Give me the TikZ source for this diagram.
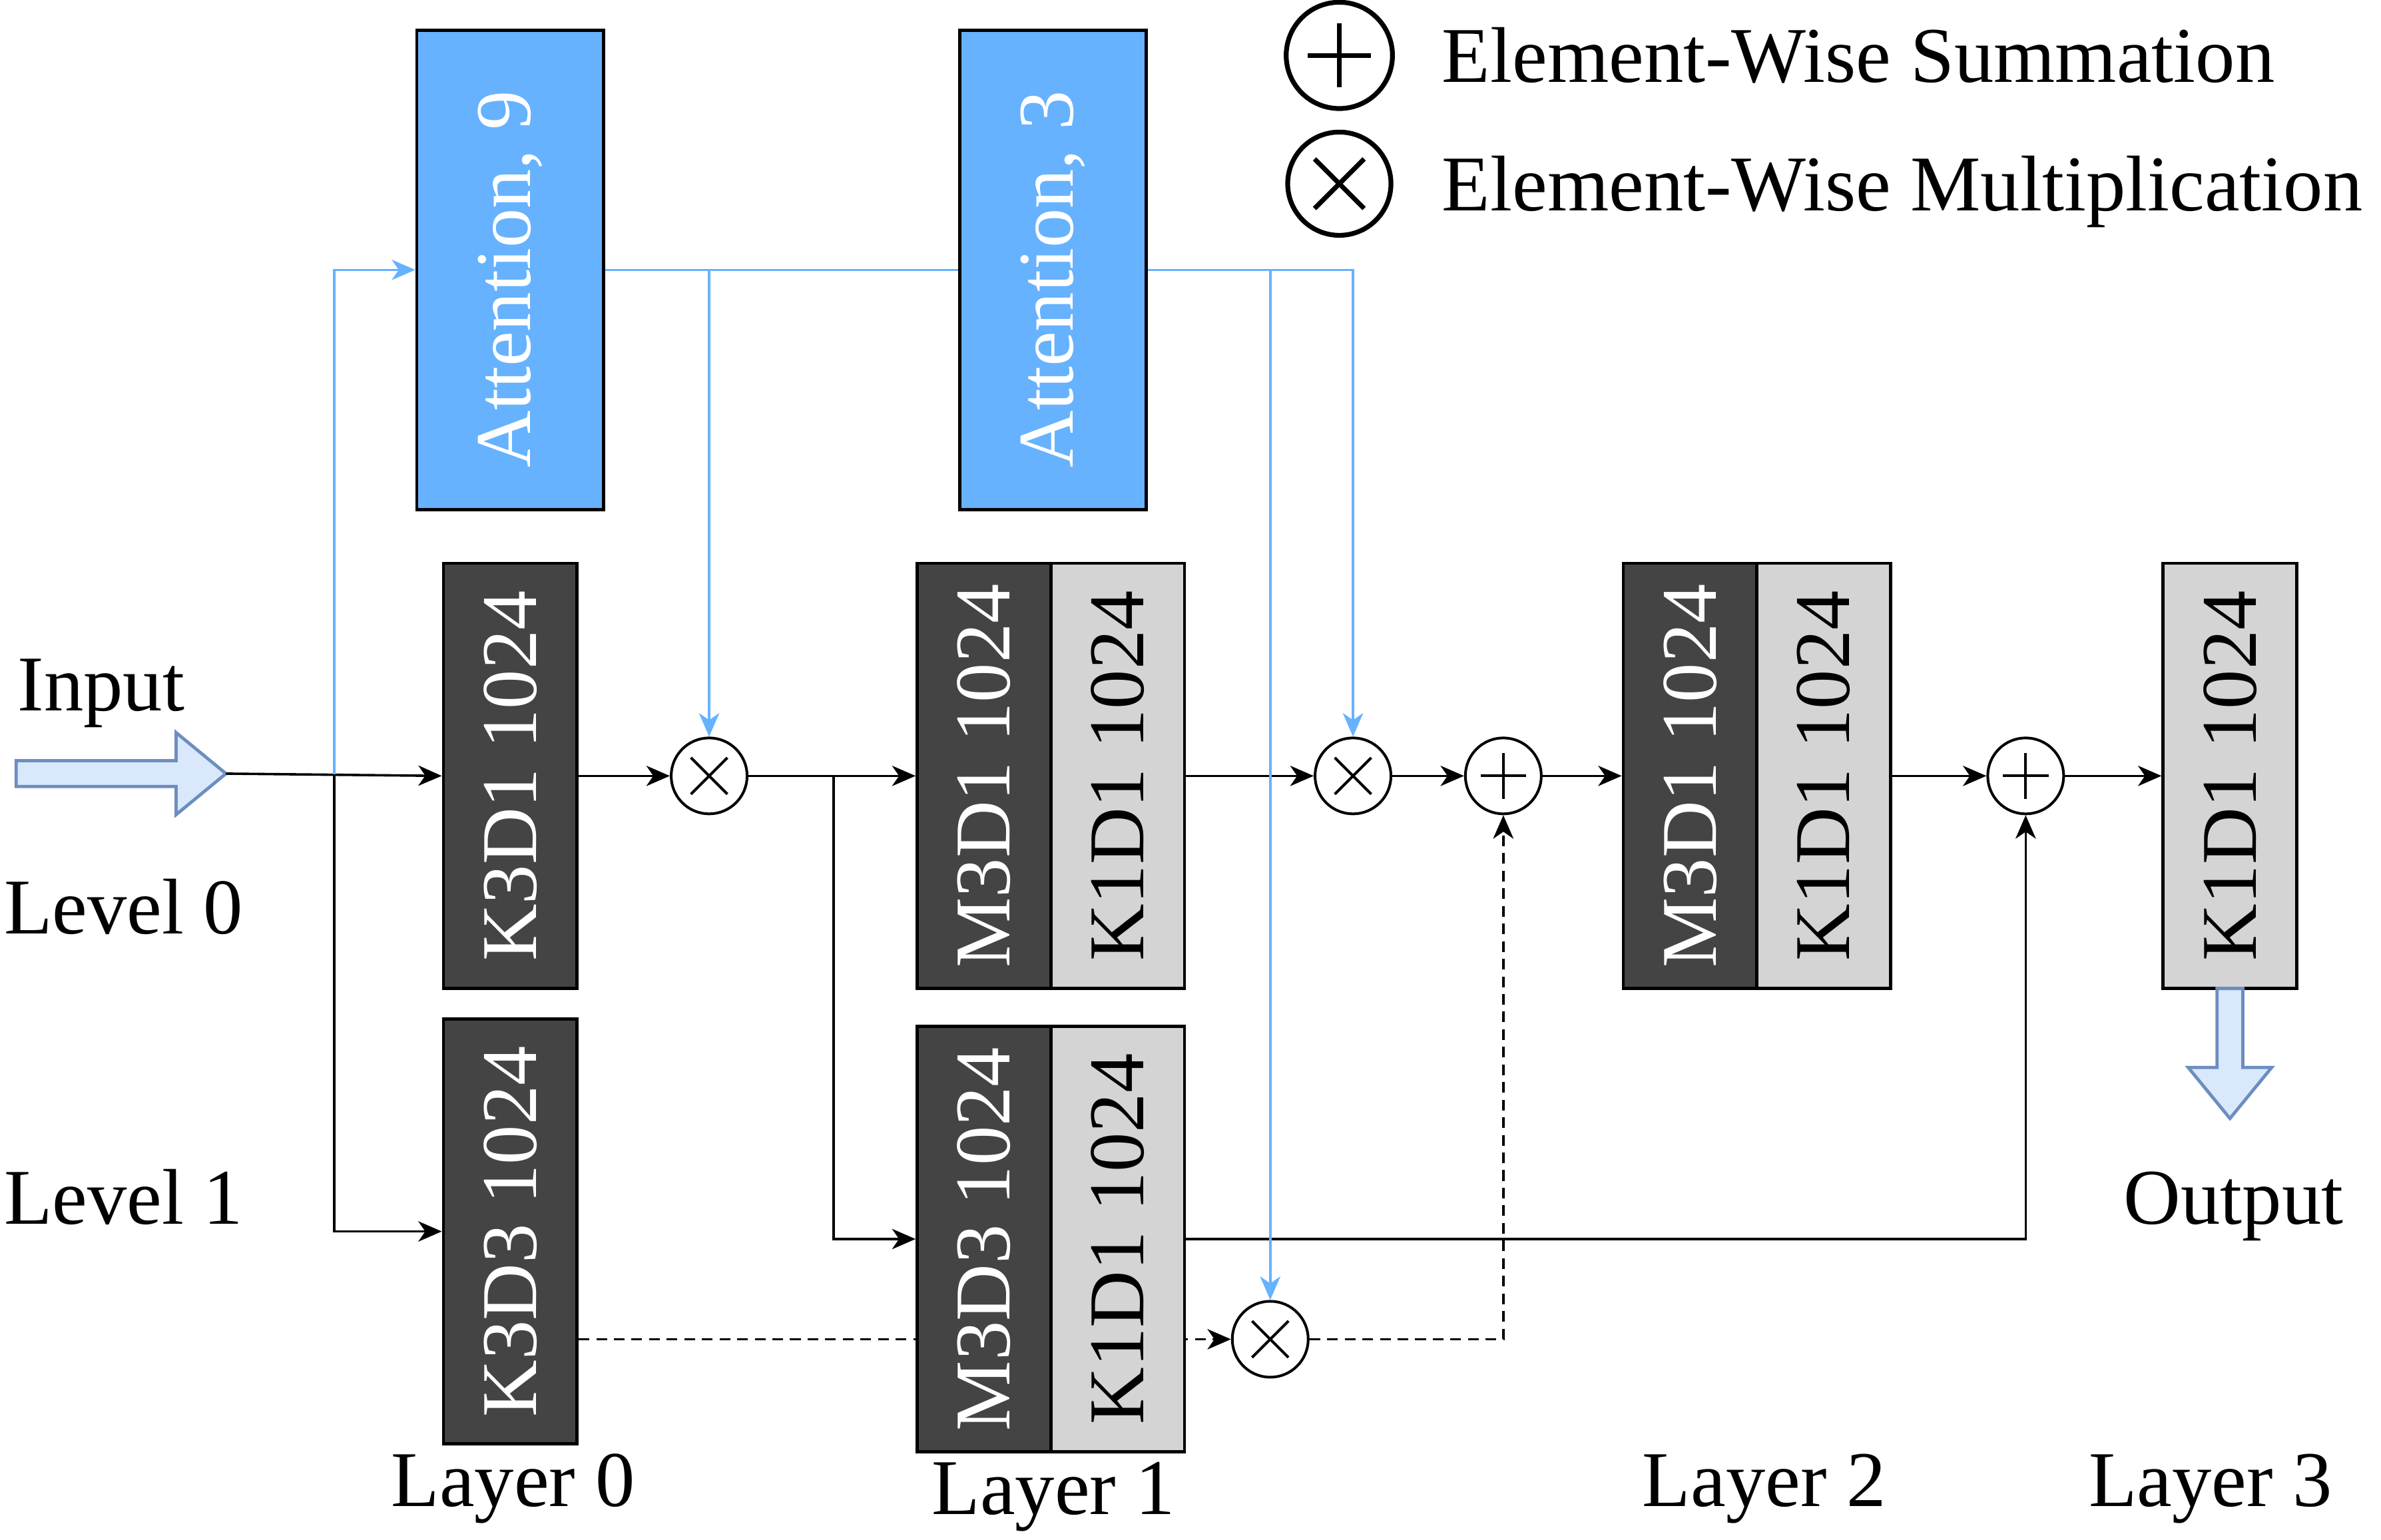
\documentclass[tikz,border=0pt]{standalone}
\usepackage{fontspec}
\usepackage{graphicx}
\setmainfont{Liberation Serif}
\usetikzlibrary{arrows.meta,backgrounds}
\definecolor{attblue}{HTML}{66B2FF}
\definecolor{darkbox}{HTML}{444444}
\definecolor{lightbox}{HTML}{D4D4D4}
\definecolor{arrowfill}{HTML}{DAE8FC}
\definecolor{arrowline}{HTML}{6C8EBF}
\tikzset{
  conv/.style={draw,line width=0.6pt,minimum width=0.88cm,minimum height=2.8cm,inner sep=0pt},
  dark/.style={conv,fill=darkbox,text=white},
  light/.style={conv,fill=lightbox,text=black},
  att/.style={draw,line width=0.6pt,fill=attblue,text=white,minimum width=1.23cm,minimum height=3.155cm,inner sep=0pt},
  op/.style={circle,draw,line width=0.5pt,inner sep=0pt,minimum size=#1},
  sumop/.style={op=#1,path picture={
    \draw ([xshift=-0.3*#1]path picture bounding box.center) -- ([xshift=0.3*#1]path picture bounding box.center);
    \draw ([yshift=-0.3*#1]path picture bounding box.center) -- ([yshift=0.3*#1]path picture bounding box.center);}},
  sumop/.default=0.5cm,
  mulop/.style={op=#1,path picture={
    \draw ([shift={(-0.24*#1,-0.24*#1)}]path picture bounding box.center) -- ([shift={(0.24*#1,0.24*#1)}]path picture bounding box.center);
    \draw ([shift={(-0.24*#1,0.24*#1)}]path picture bounding box.center) -- ([shift={(0.24*#1,-0.24*#1)}]path picture bounding box.center);}},
  mulop/.default=0.5cm,
  link/.style={line width=0.45pt,-{Stealth[length=4.4pt,width=3.8pt,inset=1.3pt]}},
  attlink/.style={link,draw=attblue,-{Stealth[length=4.4pt,width=3.8pt,inset=1.3pt,fill=attblue]}},
  skip/.style={link,dash pattern=on 2pt off 1.3pt},
  bigarrow/.style={draw=arrowline,fill=arrowfill,line width=0.6pt},
}
\begin{document}
\begin{tikzpicture}[font=\fontsize{14.8pt}{17pt}\selectfont]
\useasboundingbox (0,0) rectangle (15.68,10.14);
% attention branches
\node[att] (att9) at (3.36,8.3625) {\rotatebox{90}{Attention, 9\hspace{0.12cm}}};
\node[att] (att3) at (6.935,8.3625) {\rotatebox{90}{Attention, 3\hspace{0.12cm}}};
% conv blocks
\foreach \name/\x/\y/\kind/\txt in {k3d1/3.36/5.03/dark/K3D1 1024,k3d3/3.36/2.03/dark/K3D3 1024,
  l1m/6.48/5.03/dark/M3D1 1024,l1k/7.36/5.03/light/K1D1 1024,l1bm/6.48/1.98/dark/M3D3 1024,l1bk/7.36/1.98/light/K1D1 1024,
  l2m/11.13/5.03/dark/M3D1 1024,l2k/12.01/5.03/light/K1D1 1024,l3k/14.685/5.03/light/K1D1 1024}
  \node[\kind] (\name) at (\x,\y) {\rotatebox{90}{\txt}};
% operators
\foreach \name/\x/\y/\kind in {mult1/4.67/5.03/mulop,mult2/8.91/5.03/mulop,sum1/9.90/5.03/sumop,sum2/13.34/5.03/sumop,mult3/8.365/1.32/mulop}
  \node[\kind] (\name) at (\x,\y) {};
% legend
\node[sumop=0.7cm,line width=0.9pt] (legsum) at (8.82,9.775) {};
\node[mulop=0.68cm,line width=0.9pt] (legmul) at (8.82,8.93) {};
\node[anchor=base west,inner sep=0pt] (legsumtxt) at (9.49,9.60) {Element-Wise Summation};
\node[anchor=base west,inner sep=0pt] (legmultxt) at (9.49,8.75) {Element-Wise Multiplication};
% labels
\foreach \name/\x/\y/\txt in {input/0.11/5.46/Input,lev0/0.02/3.99/Level 0,lev1/0.02/2.08/Level 1,output/13.98/2.08/Output,
  lay0/2.57/0.22/Layer 0,lay1/6.13/0.165/Layer 1,lay2/10.81/0.22/Layer 2,lay3/13.75/0.22/Layer 3}
  \node[anchor=base west,inner sep=0pt] (\name) at (\x,\y) {\txt};
% in and out
\draw[bigarrow] (0.106,4.96) -- (1.16,4.96) -- (1.16,4.775) -- (1.488,5.045) -- (1.16,5.315) -- (1.16,5.13) -- (0.106,5.13) -- cycle;
\draw[bigarrow] (14.6,3.63) -- (14.6,3.11) -- (14.41,3.11) -- (14.685,2.774) -- (14.96,3.11) -- (14.77,3.11) -- (14.77,3.63) -- cycle;
\coordinate (intip) at (1.488,5.045);
\coordinate (split0) at (2.20,5.04);
\coordinate (split1) at (5.49,5.03);
% connections
\draw[link] (intip) -- (k3d1.west);
\draw[link] (split0) |- (k3d3.west);
\draw[link] (k3d1) -- (mult1);
\draw[link] (mult1) -- (l1m);
\draw[link] (split1) |- (l1bm.west);
\draw[link] (l1k) -- (mult2);
\draw[link] (mult2) -- (sum1);
\draw[link] (sum1) -- (l2m);
\draw[link] (l2k) -- (sum2);
\draw[link] (sum2) -- (l3k);
\draw[link] (l1bk.east) -| (sum2.south);
\draw[skip] (mult3.east) -| (sum1.south);
\begin{scope}[on background layer]
\draw[skip] (k3d3.east |- mult3) -- (mult3.west);
\end{scope}
\draw[attlink] (split0) |- (att9.west);
\draw[attlink,-] (att9.east) -- (att3.west);
\draw[attlink] (att9.east) -| (mult1.north);
\draw[attlink] (att3.east) -| (mult2.north);
\draw[attlink] (att3.east) -| (mult3.north);
\end{tikzpicture}
\end{document}
